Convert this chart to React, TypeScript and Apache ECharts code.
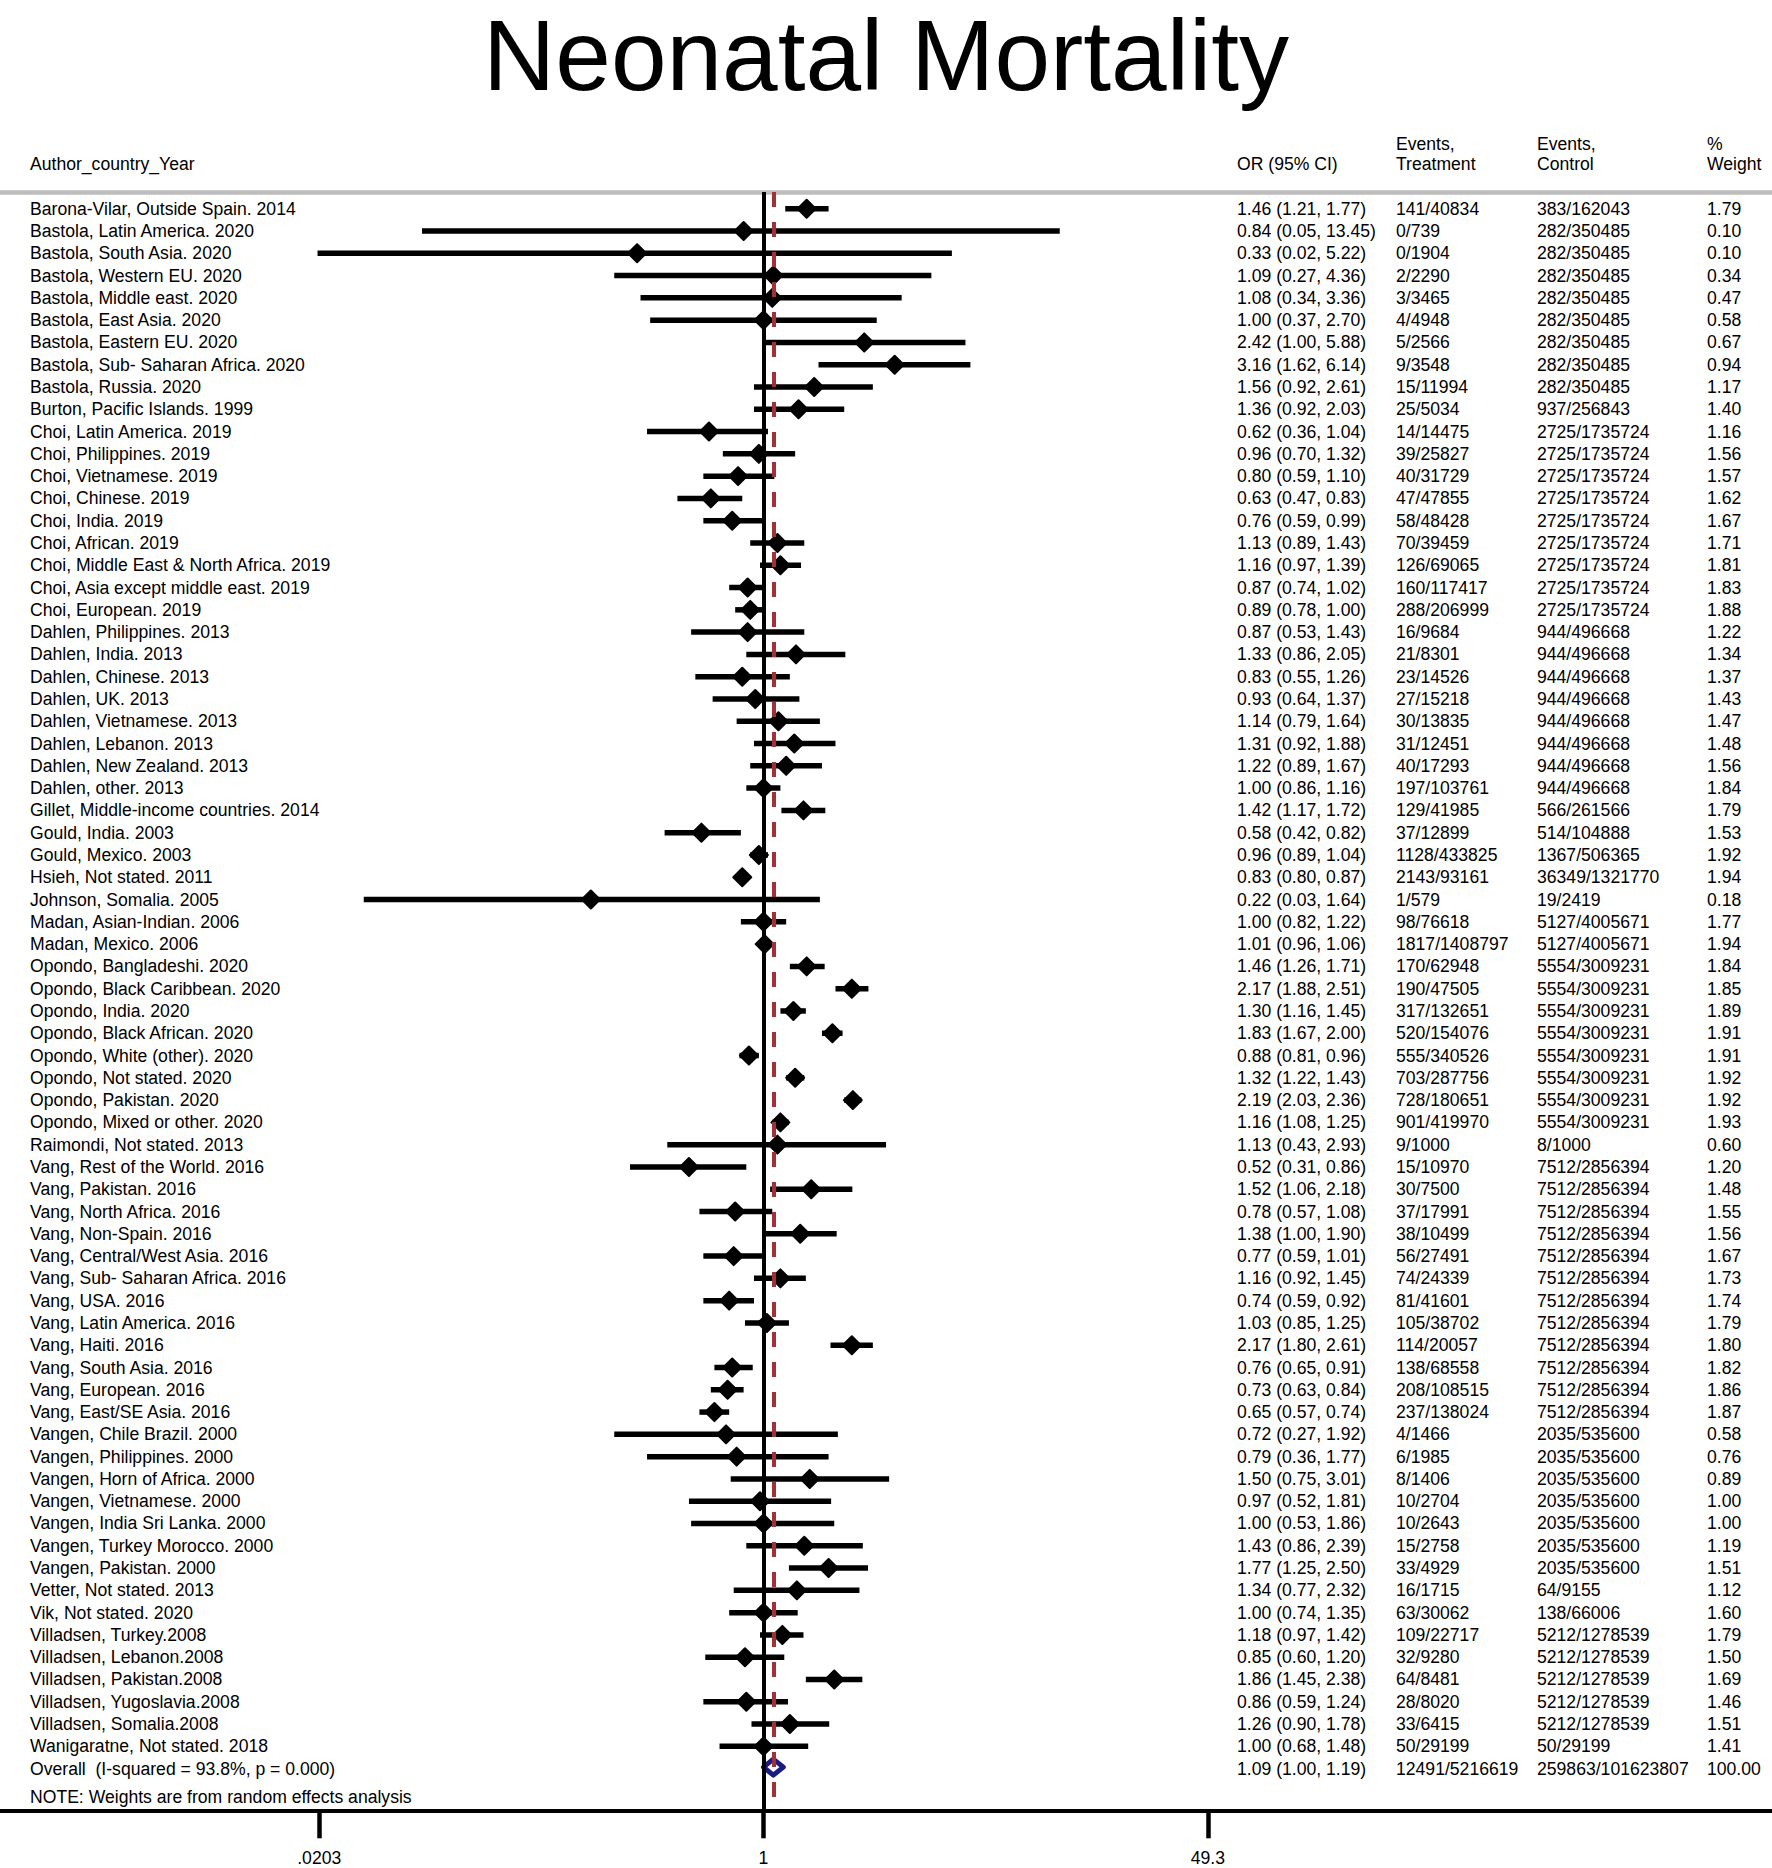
import React, { useEffect, useRef } from 'react';
import * as echarts from 'echarts';

const FONT = '"Liberation Sans", Arial, Helvetica, sans-serif';

const studyLabels = [
  'Barona-Vilar, Outside Spain. 2014',
  'Bastola, Latin America. 2020',
  'Bastola, South Asia. 2020',
  'Bastola, Western EU. 2020',
  'Bastola, Middle east. 2020',
  'Bastola, East Asia. 2020',
  'Bastola, Eastern EU. 2020',
  'Bastola, Sub- Saharan Africa. 2020',
  'Bastola, Russia. 2020',
  'Burton, Pacific Islands. 1999',
  'Choi, Latin America. 2019',
  'Choi, Philippines. 2019',
  'Choi, Vietnamese. 2019',
  'Choi, Chinese. 2019',
  'Choi, India. 2019',
  'Choi, African. 2019',
  'Choi, Middle East & North Africa. 2019',
  'Choi, Asia except middle east. 2019',
  'Choi, European. 2019',
  'Dahlen, Philippines. 2013',
  'Dahlen, India. 2013',
  'Dahlen, Chinese. 2013',
  'Dahlen, UK. 2013',
  'Dahlen, Vietnamese. 2013',
  'Dahlen, Lebanon. 2013',
  'Dahlen, New Zealand. 2013',
  'Dahlen, other. 2013',
  'Gillet, Middle-income countries. 2014',
  'Gould, India. 2003',
  'Gould, Mexico. 2003',
  'Hsieh, Not stated. 2011',
  'Johnson, Somalia. 2005',
  'Madan, Asian-Indian. 2006',
  'Madan, Mexico. 2006',
  'Opondo, Bangladeshi. 2020',
  'Opondo, Black Caribbean. 2020',
  'Opondo, India. 2020',
  'Opondo, Black African. 2020',
  'Opondo, White (other). 2020',
  'Opondo, Not stated. 2020',
  'Opondo, Pakistan. 2020',
  'Opondo, Mixed or other. 2020',
  'Raimondi, Not stated. 2013',
  'Vang, Rest of the World. 2016',
  'Vang, Pakistan. 2016',
  'Vang, North Africa. 2016',
  'Vang, Non-Spain. 2016',
  'Vang, Central/West Asia. 2016',
  'Vang, Sub- Saharan Africa. 2016',
  'Vang, USA. 2016',
  'Vang, Latin America. 2016',
  'Vang, Haiti. 2016',
  'Vang, South Asia. 2016',
  'Vang, European. 2016',
  'Vang, East/SE Asia. 2016',
  'Vangen, Chile Brazil. 2000',
  'Vangen, Philippines. 2000',
  'Vangen, Horn of Africa. 2000',
  'Vangen, Vietnamese. 2000',
  'Vangen, India Sri Lanka. 2000',
  'Vangen, Turkey Morocco. 2000',
  'Vangen, Pakistan. 2000',
  'Vetter, Not stated. 2013',
  'Vik, Not stated. 2020',
  'Villadsen, Turkey.2008',
  'Villadsen, Lebanon.2008',
  'Villadsen, Pakistan.2008',
  'Villadsen, Yugoslavia.2008',
  'Villadsen, Somalia.2008',
  'Wanigaratne, Not stated. 2018',
];

const oddsRatio = [
  1.46, 0.84, 0.33, 1.09, 1.08, 1.0, 2.42, 3.16, 1.56, 1.36,
  0.62, 0.96, 0.8, 0.63, 0.76, 1.13, 1.16, 0.87, 0.89,
  0.87, 1.33, 0.83, 0.93, 1.14, 1.31, 1.22, 1.0,
  1.42, 0.58, 0.96, 0.83, 0.22, 1.0, 1.01,
  1.46, 2.17, 1.3, 1.83, 0.88, 1.32, 2.19, 1.16,
  1.13,
  0.52, 1.52, 0.78, 1.38, 0.77, 1.16, 0.74, 1.03, 2.17, 0.76, 0.73, 0.65,
  0.72, 0.79, 1.5, 0.97, 1.0, 1.43, 1.77,
  1.34, 1.0,
  1.18, 0.85, 1.86, 0.86, 1.26,
  1.0,
];

const ciLower = [
  1.21, 0.05, 0.02, 0.27, 0.34, 0.37, 1.0, 1.62, 0.92, 0.92,
  0.36, 0.7, 0.59, 0.47, 0.59, 0.89, 0.97, 0.74, 0.78,
  0.53, 0.86, 0.55, 0.64, 0.79, 0.92, 0.89, 0.86,
  1.17, 0.42, 0.89, 0.8, 0.03, 0.82, 0.96,
  1.26, 1.88, 1.16, 1.67, 0.81, 1.22, 2.03, 1.08,
  0.43,
  0.31, 1.06, 0.57, 1.0, 0.59, 0.92, 0.59, 0.85, 1.8, 0.65, 0.63, 0.57,
  0.27, 0.36, 0.75, 0.52, 0.53, 0.86, 1.25,
  0.77, 0.74,
  0.97, 0.6, 1.45, 0.59, 0.9,
  0.68,
];

const ciUpper = [
  1.77, 13.45, 5.22, 4.36, 3.36, 2.7, 5.88, 6.14, 2.61, 2.03,
  1.04, 1.32, 1.1, 0.83, 0.99, 1.43, 1.39, 1.02, 1.0,
  1.43, 2.05, 1.26, 1.37, 1.64, 1.88, 1.67, 1.16,
  1.72, 0.82, 1.04, 0.87, 1.64, 1.22, 1.06,
  1.71, 2.51, 1.45, 2.0, 0.96, 1.43, 2.36, 1.25,
  2.93,
  0.86, 2.18, 1.08, 1.9, 1.01, 1.45, 0.92, 1.25, 2.61, 0.91, 0.84, 0.74,
  1.92, 1.77, 3.01, 1.81, 1.86, 2.39, 2.5,
  2.32, 1.35,
  1.42, 1.2, 2.38, 1.24, 1.78,
  1.48,
];

const eventsTreatment = [
  '141/40834', '0/739', '0/1904', '2/2290', '3/3465', '4/4948', '5/2566', '9/3548', '15/11994', '25/5034',
  '14/14475', '39/25827', '40/31729', '47/47855', '58/48428', '70/39459', '126/69065', '160/117417', '288/206999',
  '16/9684', '21/8301', '23/14526', '27/15218', '30/13835', '31/12451', '40/17293', '197/103761',
  '129/41985', '37/12899', '1128/433825', '2143/93161', '1/579', '98/76618', '1817/1408797',
  '170/62948', '190/47505', '317/132651', '520/154076', '555/340526', '703/287756', '728/180651', '901/419970',
  '9/1000',
  '15/10970', '30/7500', '37/17991', '38/10499', '56/27491', '74/24339', '81/41601', '105/38702', '114/20057', '138/68558', '208/108515', '237/138024',
  '4/1466', '6/1985', '8/1406', '10/2704', '10/2643', '15/2758', '33/4929',
  '16/1715', '63/30062',
  '109/22717', '32/9280', '64/8481', '28/8020', '33/6415',
  '50/29199',
];

const eventsControl = [
  '383/162043', '282/350485', '282/350485', '282/350485', '282/350485', '282/350485', '282/350485', '282/350485', '282/350485', '937/256843',
  '2725/1735724', '2725/1735724', '2725/1735724', '2725/1735724', '2725/1735724', '2725/1735724', '2725/1735724', '2725/1735724', '2725/1735724',
  '944/496668', '944/496668', '944/496668', '944/496668', '944/496668', '944/496668', '944/496668', '944/496668',
  '566/261566', '514/104888', '1367/506365', '36349/1321770', '19/2419', '5127/4005671', '5127/4005671',
  '5554/3009231', '5554/3009231', '5554/3009231', '5554/3009231', '5554/3009231', '5554/3009231', '5554/3009231', '5554/3009231',
  '8/1000',
  '7512/2856394', '7512/2856394', '7512/2856394', '7512/2856394', '7512/2856394', '7512/2856394', '7512/2856394', '7512/2856394', '7512/2856394', '7512/2856394', '7512/2856394', '7512/2856394',
  '2035/535600', '2035/535600', '2035/535600', '2035/535600', '2035/535600', '2035/535600', '2035/535600',
  '64/9155', '138/66006',
  '5212/1278539', '5212/1278539', '5212/1278539', '5212/1278539', '5212/1278539',
  '50/29199',
];

const weights = [
  1.79, 0.1, 0.1, 0.34, 0.47, 0.58, 0.67, 0.94, 1.17, 1.4,
  1.16, 1.56, 1.57, 1.62, 1.67, 1.71, 1.81, 1.83, 1.88,
  1.22, 1.34, 1.37, 1.43, 1.47, 1.48, 1.56, 1.84,
  1.79, 1.53, 1.92, 1.94, 0.18, 1.77, 1.94,
  1.84, 1.85, 1.89, 1.91, 1.91, 1.92, 1.92, 1.93,
  0.6,
  1.2, 1.48, 1.55, 1.56, 1.67, 1.73, 1.74, 1.79, 1.8, 1.82, 1.86, 1.87,
  0.58, 0.76, 0.89, 1.0, 1.0, 1.19, 1.51,
  1.12, 1.6,
  1.79, 1.5, 1.69, 1.46, 1.51,
  1.41,
];

const overallLabel = 'Overall  (I-squared = 93.8%, p = 0.000)';
const overallOR = 1.09;
const overallLower = 1.0;
const overallUpper = 1.19;
const overallEventsTreatment = '12491/5216619';
const overallEventsControl = '259863/101623807';
const overallWeight = 100.0;

const tickValues = [0.0203, 1, 49.3];
const tickLabels = ['.0203', '1', '49.3'];

const headerTop = ['', '', 'Events,', 'Events,', '%'];
const headerBottom = ['Author_country_Year', 'OR (95% CI)', 'Treatment', 'Control', 'Weight'];
const noteText = 'NOTE: Weights are from random effects analysis';
const titleText = 'Neonatal Mortality';

// layout
const W = 1772;
const H = 1868;
const COL_X = [30, 1237, 1396, 1537, 1707];
const FS = 17.6;
const X_MIN = -763.5 / 114;
const X_MAX = (W - 763.5) / 114;

export default function App() {
  const ref = useRef<HTMLDivElement>(null);

  useEffect(() => {
    document.body.style.margin = '0';
    if (!ref.current) return;
    const chart = echarts.init(ref.current, null, { renderer: 'svg' });

    const f2 = (v: number) => v.toFixed(2);
    const rowLabel = [...studyLabels, overallLabel];
    const rowOR = [
      ...oddsRatio.map((v, i) => `${f2(v)} (${f2(ciLower[i])}, ${f2(ciUpper[i])})`),
      `${f2(overallOR)} (${f2(overallLower)}, ${f2(overallUpper)})`,
    ];
    const rowEvT = [...eventsTreatment, overallEventsTreatment];
    const rowEvC = [...eventsControl, overallEventsControl];
    const rowW = [...weights.map(f2), f2(overallWeight)];
    const nRows = rowLabel.length;

    const tickLn = tickValues.map((v) => Math.log(v));
    const ciData = oddsRatio.map((_, i) => [Math.log(ciLower[i]), Math.log(ciUpper[i]), i + 1]);
    const pointData = oddsRatio.map((v, i) => [Math.log(v), i + 1]);
    const overallRow = nRows;
    const overallData = [[Math.log(overallLower), Math.log(overallOR), Math.log(overallUpper), overallRow]];
    const textData = rowLabel.map((_, i) => [0, i + 1]);

    const textStyleBase = { fill: '#000', fontSize: FS, fontFamily: FONT, align: 'left', verticalAlign: 'middle' };

    const graphics: any[] = [];
    headerTop.forEach((t, i) => {
      if (t) graphics.push({ type: 'text', x: COL_X[i], y: 144, style: { ...textStyleBase, text: t } });
    });
    headerBottom.forEach((t, i) => {
      graphics.push({ type: 'text', x: COL_X[i], y: 164, style: { ...textStyleBase, text: t } });
    });
    graphics.push({ type: 'text', x: COL_X[0], y: 1797, style: { ...textStyleBase, text: noteText } });

    const option: any = {
      animation: false,
      backgroundColor: '#fff',
      title: {
        text: titleText,
        left: 'center',
        top: 17,
        padding: 0,
        textStyle: { fontSize: 100, lineHeight: 75, fontWeight: 'normal', fontFamily: FONT, color: '#000' },
      },
      graphic: graphics,
      grid: { left: 0, right: 0, top: 192, bottom: 57.7, containLabel: false, outerBoundsMode: 'none' },
      xAxis: [
        {
          type: 'value',
          min: X_MIN,
          max: X_MAX,
          position: 'bottom',
          splitLine: { show: false },
          axisLine: { show: true, onZero: false, lineStyle: { color: '#000', width: 4 } },
          axisTick: { show: true, length: 28, customValues: tickLn, lineStyle: { color: '#000', width: 4.5 } },
          axisLabel: {
            show: true,
            customValues: tickLn,
            margin: 39,
            fontSize: FS,
            lineHeight: 18,
            fontFamily: FONT,
            color: '#000',
            formatter: (v: number) => {
              let best = 0;
              tickLn.forEach((t, i) => {
                if (Math.abs(t - v) < Math.abs(tickLn[best] - v)) best = i;
              });
              return tickLabels[best];
            },
          },
        },
        {
          type: 'value',
          min: X_MIN,
          max: X_MAX,
          position: 'top',
          splitLine: { show: false },
          axisLine: { show: true, onZero: false, lineStyle: { color: '#bdbdbd', width: 4.5 } },
          axisTick: { show: false },
          axisLabel: { show: false },
        },
      ],
      yAxis: {
        type: 'value',
        inverse: true,
        min: 0.25,
        max: 72.87,
        show: false,
        splitLine: { show: false },
      },
      series: [
        {
          type: 'scatter',
          name: 'ref',
          data: [],
          z: 1,
          silent: true,
          markLine: {
            silent: true,
            symbol: ['none', 'none'],
            label: { show: false },
            animation: false,
            data: [
              { xAxis: Math.log(overallOR), lineStyle: { color: '#a0303a', width: 4, type: [15, 15] } },
              { xAxis: 0, lineStyle: { color: '#000', width: 4, type: 'solid' } },
            ],
          },
        },
        {
          type: 'custom',
          name: 'ci',
          z: 2,
          silent: true,
          data: ciData,
          encode: { x: [0, 1], y: 2 },
          renderItem: (params: any, api: any) => {
            const p1 = api.coord([api.value(0), api.value(2)]);
            const p2 = api.coord([api.value(1), api.value(2)]);
            return {
              type: 'line',
              shape: { x1: p1[0], y1: p1[1], x2: p2[0], y2: p2[1] },
              style: { stroke: '#000', lineWidth: 5.5 },
            };
          },
        },
        {
          type: 'scatter',
          name: 'or',
          z: 3,
          silent: true,
          data: pointData,
          symbol: 'diamond',
          symbolSize: 18,
          itemStyle: { color: '#000', borderColor: '#000', borderWidth: 2, borderJoin: 'round', opacity: 1 },
        },
        {
          type: 'custom',
          name: 'overall',
          z: 4,
          silent: true,
          data: overallData,
          encode: { x: [0, 1, 2], y: 3 },
          renderItem: (params: any, api: any) => {
            const row = api.value(3);
            const l = api.coord([api.value(0), row]);
            const m = api.coord([api.value(1), row]);
            const r = api.coord([api.value(2), row]);
            const h = 8;
            return {
              type: 'polygon',
              shape: { points: [[l[0], l[1] - 1.5], [m[0], m[1] - 1.5 - h], [r[0], r[1] - 1.5], [m[0], m[1] - 1.5 + h]] },
              style: { fill: '#fff', stroke: '#1b1b84', lineWidth: 5, lineJoin: 'round' },
            };
          },
        },
        {
          type: 'custom',
          name: 'table',
          z: 5,
          silent: true,
          data: textData,
          encode: { x: 0, y: 1 },
          renderItem: (params: any, api: any) => {
            const i = params.dataIndex;
            const y = api.coord([0, api.value(1)])[1];
            const cols = [rowLabel[i], rowOR[i], rowEvT[i], rowEvC[i], rowW[i]];
            return {
              type: 'group',
              children: cols.map((t, c) => ({
                type: 'text',
                x: COL_X[c],
                y,
                style: { ...textStyleBase, text: t },
              })),
            };
          },
        },
      ],
    };

    chart.setOption(option);
    return () => chart.dispose();
  }, []);

  return <div ref={ref} style={{ width: W, height: H }} />;
}
